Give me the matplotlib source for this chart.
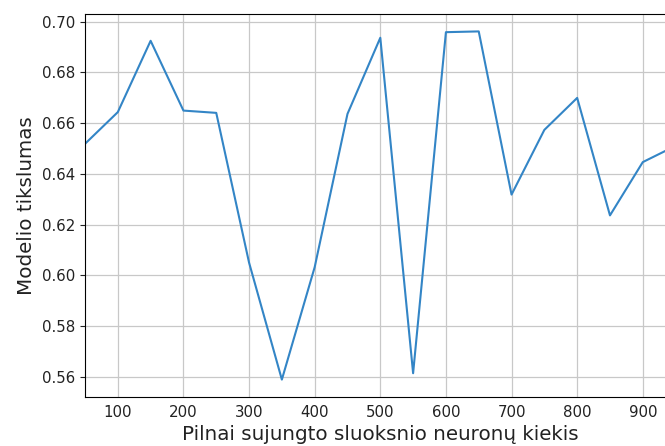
import numpy as np
import matplotlib
matplotlib.use("Agg")
import matplotlib.pyplot as plt

# neuron counts in the dense layer and model accuracy
neurons = [50, 100, 150, 200, 250, 300, 350, 400, 450, 500,
           550, 600, 650, 700, 750, 800, 850, 900, 950]
accuracy = [0.6518, 0.6643, 0.6924, 0.6649, 0.6640, 0.6050, 0.5589, 0.6032, 0.6636, 0.6936,
            0.5614, 0.6958, 0.6961, 0.6318, 0.6573, 0.6699, 0.6236, 0.6446, 0.6510]
yticks = [0.56, 0.58, 0.60, 0.62, 0.64, 0.66, 0.68, 0.70]
xticks = [100, 200, 300, 400, 500, 600, 700, 800, 900]

W, H = 665, 446
fig = plt.figure(figsize=(W / 100, H / 100), dpi=100)
# axes run past the right edge, like the cropped original
left, right, top, bottom = 85, 675.6, 14, 397
ax = fig.add_axes([left / W, (H - bottom) / H, (right - left) / W, (bottom - top) / H])

ax.plot(neurons, accuracy, color="#3385c6", lw=1.5)
ax.set_xlim(50, 950)
ax.set_xticks(xticks)
ax.set_yticks(yticks)
ax.set_yticklabels(["%.2f" % v for v in yticks])
ax.grid(True, color="#c8c8c8", lw=0.9)
ax.tick_params(labelsize=10.8, colors="#222222", labelcolor="#222222")
ax.tick_params(axis="x", length=0, pad=6)
ax.set_xlabel("Pilnai sujungto sluoksnio neuronų kiekis", fontsize=14.3, color="#222222", labelpad=3)
ax.set_ylabel("Modelio tikslumas", fontsize=14.3, color="#222222")

fig.savefig("out.png", dpi=100)
